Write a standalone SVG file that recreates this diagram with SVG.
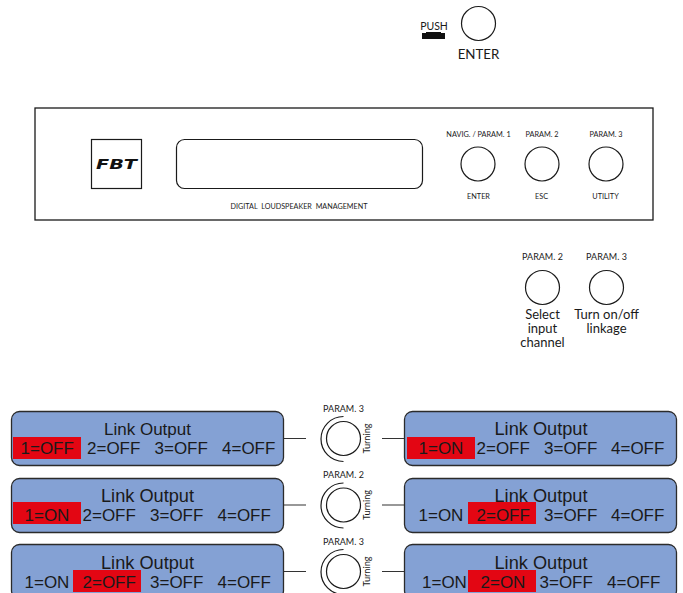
<svg xmlns="http://www.w3.org/2000/svg" width="683" height="593" viewBox="0 0 683 593">
<defs><style>
.l{font-family:Lato,"Liberation Sans",sans-serif;fill:#1a1a1a;text-anchor:middle}
.a{font-family:"Liberation Sans",Arial,sans-serif;fill:#1a1a1a;font-size:17px}
.t{font-size:18.200px;text-anchor:middle}
.k{fill:none;stroke:#1a1a1a;stroke-width:1.2}
.p{fill:#84a1d4;stroke:#2b2b2b;stroke-width:1.3}
.r{fill:#e30613}
.c{stroke:#333;stroke-width:1.2;fill:none}
</style></defs>
<g id="enter-knob"><circle class="k" cx="478.500" cy="23.500" r="17"/><text class="l" x="478.500" y="58.500" font-size="13.300">ENTER</text><text class="l" x="434" y="30" font-size="10.500">PUSH</text><path d="M422 39V33H426V32H441V33H445V39Z" fill="#111"/></g>
<g id="panel"><rect x="35" y="108" width="618" height="112" fill="none" stroke="#1a1a1a" stroke-width="1.300"/><text class="l" x="299" y="209" font-size="7.200" word-spacing="2">DIGITAL LOUDSPEAKER MANAGEMENT</text></g>
<g id="logo"><rect class="k" x="91.500" y="139.500" width="50" height="49"/><text x="96" y="169" font-family="'DejaVu Sans',sans-serif" font-size="14" font-weight="700" font-style="italic" textLength="41" lengthAdjust="spacingAndGlyphs" fill="#111">FBT</text></g>
<g id="display"><rect class="k" x="176.500" y="139.500" width="246" height="49" rx="8"/></g>
<g id="knob-1"><text class="l" x="478.500" y="136.500" font-size="7.300">NAVIG. / PARAM. 1</text><circle class="k" cx="478" cy="164" r="17"/><text class="l" x="478.500" y="198.500" font-size="7.300">ENTER</text></g>
<g id="knob-2"><text class="l" x="542" y="136.500" font-size="7.300">PARAM. 2</text><circle class="k" cx="542" cy="164" r="17"/><text class="l" x="541.500" y="198.500" font-size="7.300">ESC</text></g>
<g id="knob-3"><text class="l" x="606" y="136.500" font-size="7.300">PARAM. 3</text><circle class="k" cx="606" cy="164" r="17"/><text class="l" x="605.500" y="198.500" font-size="7.300">UTILITY</text></g>
<g id="param2-select"><text class="l" x="542.500" y="259.500" font-size="9">PARAM. 2</text><circle class="k" cx="542.500" cy="287.500" r="17"/><text class="l" font-size="13"><tspan x="542.500" y="318.500">Select</tspan><tspan x="542.500" y="332.500">input</tspan><tspan x="542.500" y="347">channel</tspan></text></g>
<g id="param3-linkage"><text class="l" x="606.500" y="259.500" font-size="9">PARAM. 3</text><circle class="k" cx="606.500" cy="287.500" r="17"/><text class="l" font-size="13"><tspan x="606.500" y="318.500">Turn on/off</tspan><tspan x="606.500" y="332.500">linkage</tspan></text></g>
<g id="connectors"><path class="c" d="M284 438.500H306M382 438.500H404M284 505H306M382 505H404M284 571.500H306M382 571.500H404"/></g>
<g id="turn-1"><text class="l" x="343.500" y="411.500" font-size="9">PARAM. 3</text><circle class="k" cx="343.500" cy="438.500" r="17"/><path class="k" d="M343.500 416.500A22.500 22.500 0 0 0 343.500 461.500"/><text class="l" transform="translate(370 438.500) rotate(-90)" font-size="9.200">Turning</text></g>
<g id="turn-2"><text class="l" x="343.500" y="477.500" font-size="9">PARAM. 2</text><circle class="k" cx="343.500" cy="505" r="17"/><path class="k" d="M343.500 483A22.500 22.500 0 0 0 343.500 528"/><text class="l" transform="translate(370 505) rotate(-90)" font-size="9.200">Turning</text></g>
<g id="turn-3"><text class="l" x="343.500" y="544.500" font-size="9">PARAM. 3</text><circle class="k" cx="343.500" cy="571.500" r="17"/><path class="k" d="M343.500 549.500A22.500 22.500 0 0 0 343.500 594.500"/><text class="l" transform="translate(370 571.500) rotate(-90)" font-size="9.200">Turning</text></g>
<g id="lcd-1"><rect class="p" x="11.500" y="411.500" width="272" height="54" rx="8"/><rect class="r" x="13" y="437" width="68" height="22"/><text class="a" x="147.500" y="435" text-anchor="middle">Link Output</text><text class="a"><tspan x="20.500" y="454">1=OFF</tspan><tspan x="87" y="454">2=OFF</tspan><tspan x="154.500" y="454">3=OFF</tspan><tspan x="222" y="454">4=OFF</tspan></text></g>
<g id="lcd-2"><rect class="p" x="11.500" y="478.500" width="272" height="54" rx="8"/><rect class="r" x="13" y="502" width="68" height="22"/><text class="a t" x="147.500" y="501.500">Link Output</text><text class="a"><tspan x="24.500" y="521">1=ON</tspan><tspan x="82.500" y="521">2=OFF</tspan><tspan x="150" y="521">3=OFF</tspan><tspan x="217.500" y="521">4=OFF</tspan></text></g>
<g id="lcd-3"><rect class="p" x="11.500" y="544.500" width="272" height="54" rx="8"/><rect class="r" x="73" y="570" width="68" height="22"/><text class="a t" x="147.500" y="568.500">Link Output</text><text class="a"><tspan x="24.500" y="588">1=ON</tspan><tspan x="82.500" y="588">2=OFF</tspan><tspan x="150" y="588">3=OFF</tspan><tspan x="217.500" y="588">4=OFF</tspan></text></g>
<g id="lcd-4"><rect class="p" x="404.500" y="411.500" width="272" height="54" rx="8"/><rect class="r" x="407" y="437" width="68" height="22"/><text class="a t" x="541" y="435">Link Output</text><text class="a"><tspan x="418.500" y="454">1=ON</tspan><tspan x="476.500" y="454">2=OFF</tspan><tspan x="544" y="454">3=OFF</tspan><tspan x="611" y="454">4=OFF</tspan></text></g>
<g id="lcd-5"><rect class="p" x="404.500" y="478.500" width="272" height="54" rx="8"/><rect class="r" x="468" y="502" width="68" height="22"/><text class="a t" x="541" y="501.500">Link Output</text><text class="a"><tspan x="418.500" y="521">1=ON</tspan><tspan x="476.500" y="521">2=OFF</tspan><tspan x="544" y="521">3=OFF</tspan><tspan x="611" y="521">4=OFF</tspan></text></g>
<g id="lcd-6"><rect class="p" x="404.500" y="544.500" width="272" height="54" rx="8"/><rect class="r" x="468" y="570" width="68" height="22"/><text class="a t" x="541" y="568.500">Link Output</text><text class="a"><tspan x="422" y="588">1=ON</tspan><tspan x="480.500" y="588">2=ON</tspan><tspan x="539.500" y="588">3=OFF</tspan><tspan x="607" y="588">4=OFF</tspan></text></g>
</svg>
